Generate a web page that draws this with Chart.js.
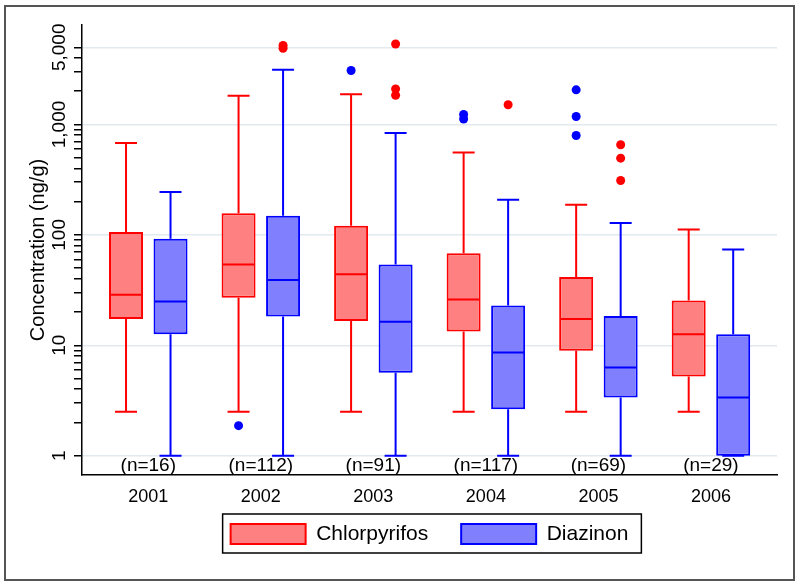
<!DOCTYPE html>
<html>
<head>
<meta charset="utf-8">
<title>Chlorpyrifos and Diazinon concentrations by year</title>
<script src="https://cdn.jsdelivr.net/npm/chart.js@4/dist/chart.umd.min.js"></script>
<style>
  body { margin: 0; background: #fff; }
  canvas { display: block; }
</style>
</head>
<body>
<canvas id="myChart" width="800" height="585"></canvas>
<script>
/* global Chart */

// categories + sample sizes
const years = ['2001', '2002', '2003', '2004', '2005', '2006'];
const sampleSizes = [16, 112, 91, 117, 69, 29];

// Chlorpyrifos box stats (ng/g)
const chlorLow = [2.5, 2.5, 2.5, 2.5, 2.5, 2.5];
const chlorQ1 = [17.3, 27, 16.6, 13.3, 8.9, 5.2];
const chlorMed = [28.6, 54, 44, 26, 17.3, 12.6];
const chlorQ3 = [106, 157, 121, 68, 41.6, 25.4];
const chlorHigh = [680, 1820, 1880, 557, 187, 112];
// outside values shown at the chlorpyrifos column (drawn blue, as in the original)
const chlorOut = [[], [1.87], [3080], [1230, 1120], [2060, 1180, 795], []];

// Diazinon box stats (ng/g)
const diazLow = [1, 1, 1, 1, 1, 1];
const diazQ1 = [12.6, 18.2, 5.65, 2.63, 3.36, 1.0];
const diazMed = [24.9, 39, 16.3, 8.6, 6.3, 3.36];
const diazQ3 = [92, 149, 54, 22.9, 18.4, 12.6];
const diazHigh = [244, 3130, 835, 208, 128, 73.6];
// outside values shown at the diazinon column (drawn red)
const diazOut = [[], [5200, 4900], [5350, 2100, 1840], [1510], [655, 495, 311], []];

// y axis ticks
const yMajor = [1, 10, 100, 1000, 5000];
const yLabels = ['1', '10', '100', '1,000', '5,000'];
const yMinor = [2, 3, 4, 5, 6, 7, 8, 9, 20, 30, 40, 50, 60, 70, 80, 90,
  200, 300, 400, 500, 600, 700, 800, 900, 2000, 3000, 4000];

const RED = '#ff0000';
const BLUE = '#0000ff';

Chart.defaults.font.family = '"Liberation Sans", Arial, sans-serif';
Chart.defaults.color = '#000';

// page frame + white background, legend nudged up under the year labels
const framePlugin = {
  id: 'frame',
  afterLayout: function(chart) {
    chart.legend.top -= 14.5;
    chart.legend.bottom -= 14.5;
  },
  beforeDraw: function(chart) {
    const ctx = chart.ctx;
    ctx.save();
    ctx.fillStyle = '#fff';
    ctx.fillRect(0, 0, chart.width, chart.height);
    ctx.strokeStyle = '#555';
    ctx.lineWidth = 2;
    ctx.strokeRect(5, 6, chart.width - 11, chart.height - 11);
    ctx.restore();
  },
  afterDraw: function(chart) {
    // box round the legend
    const hb = chart.legend.legendHitBoxes;
    if (!hb || !hb.length) return;
    const ctx = chart.ctx;
    const last = hb[hb.length - 1];
    const left = hb[0].left - 8;
    const right = last.left + last.width + 13;
    const top = hb[0].top - 9.5;
    ctx.save();
    ctx.strokeStyle = '#000';
    ctx.lineWidth = 1.5;
    ctx.strokeRect(left, top, right - left, 39);
    ctx.restore();
  }
};

// whiskers, medians, outside values and n= labels
const boxPlugin = {
  id: 'boxParts',
  afterDatasetsDraw: function(chart) {
    const ctx = chart.ctx;
    const yScale = chart.scales.y;
    const series = [
      {low: chlorLow, q1: chlorQ1, med: chlorMed, q3: chlorQ3, high: chlorHigh, out: chlorOut, color: RED, dot: BLUE},
      {low: diazLow, q1: diazQ1, med: diazMed, q3: diazQ3, high: diazHigh, out: diazOut, color: BLUE, dot: RED}
    ];
    ctx.save();
    ctx.lineWidth = 2;
    ctx.lineCap = 'butt';
    series.forEach(function(s, d) {
      const meta = chart.getDatasetMeta(d);
      meta.data.forEach(function(bar, i) {
        const x = bar.x;
        const half = bar.width / 2;
        const yLow = yScale.getPixelForValue(s.low[i]);
        const yQ1 = yScale.getPixelForValue(s.q1[i]);
        const yMed = yScale.getPixelForValue(s.med[i]);
        const yQ3 = yScale.getPixelForValue(s.q3[i]);
        const yHigh = yScale.getPixelForValue(s.high[i]);
        ctx.strokeStyle = s.color;
        ctx.beginPath();
        // whiskers
        ctx.moveTo(x, yQ3); ctx.lineTo(x, yHigh);
        ctx.moveTo(x, yQ1); ctx.lineTo(x, yLow);
        // caps
        ctx.moveTo(x - 11, yHigh); ctx.lineTo(x + 11, yHigh);
        ctx.moveTo(x - 11, yLow); ctx.lineTo(x + 11, yLow);
        // median
        ctx.moveTo(x - half + 1, yMed); ctx.lineTo(x + half - 1, yMed);
        ctx.stroke();
        // outside values
        ctx.fillStyle = s.dot;
        s.out[i].forEach(function(v) {
          ctx.beginPath();
          ctx.arc(x, yScale.getPixelForValue(v), 4.5, 0, Math.PI * 2);
          ctx.fill();
        });
      });
    });
    // (n=..) under each year
    const xScale = chart.scales.x;
    ctx.fillStyle = '#000';
    ctx.font = '19px "Liberation Sans", Arial, sans-serif';
    ctx.textAlign = 'center';
    ctx.textBaseline = 'alphabetic';
    sampleSizes.forEach(function(n, i) {
      ctx.fillText('(n=' + n + ')', xScale.getPixelForValue(i + 1), chart.chartArea.bottom - 4);
    });
    ctx.restore();
  }
};

const ctx = document.getElementById('myChart').getContext('2d');

const chart = new Chart(ctx, {
  type: 'bar',
  data: {
    datasets: [{
      label: 'Chlorpyrifos',
      backgroundColor: '#ff8080',
      borderColor: RED,
      borderWidth: 2,
      borderSkipped: false,
      data: years.map(function(y, i) { return {x: i + 1, y: [chlorQ1[i], chlorQ3[i]]}; })
    },
    {
      label: 'Diazinon',
      backgroundColor: '#8080ff',
      borderColor: BLUE,
      borderWidth: 2,
      borderSkipped: false,
      data: years.map(function(y, i) { return {x: i + 1, y: [diazQ1[i], diazQ3[i]]}; })
    }]
  },
  options: {
    responsive: false,
    animation: false,
    categoryPercentage: 0.791,
    barPercentage: 0.764,
    layout: {
      padding: {left: 0, right: 23, top: 25, bottom: 16}
    },
    scales: {
      x: {
        type: 'linear',
        min: 0.411,
        max: 6.587,
        offset: false,
        afterBuildTicks: function(scale) {
          scale.ticks = years.map(function(y, i) { return {value: i + 1}; });
        },
        afterFit: function(scale) { scale.height = 30; },
        ticks: {
          autoSkip: false,
          maxRotation: 0,
          padding: 11,
          font: {size: 18},
          callback: function(v) { return years[v - 1] || ''; }
        },
        grid: {drawOnChartArea: false, drawTicks: false, offset: false},
        border: {color: '#000', width: 1.5}
      },
      y: {
        type: 'logarithmic',
        min: 0.668,
        max: 7960,
        afterBuildTicks: function(scale) {
          scale.ticks = yMajor.concat(yMinor).sort(function(a, b) { return a - b; })
            .map(function(v) { return {value: v}; });
        },
        afterFit: function(scale) { scale.width = 82; },
        ticks: {
          autoSkip: false,
          minRotation: 90,
          maxRotation: 90,
          crossAlign: 'center',
          padding: -10,
          font: {size: 19},
          callback: function(v) {
            const k = yMajor.indexOf(v);
            return k >= 0 ? yLabels[k] : '';
          }
        },
        grid: {
          color: function(c) {
            return c.tick && yMajor.indexOf(c.tick.value) >= 0 ? '#e1eaee' : 'rgba(0,0,0,0)';
          },
          lineWidth: 1.5,
          tickLength: 8,
          tickColor: '#000',
          tickWidth: 1.5
        },
        border: {color: '#000', width: 1.5},
        title: {
          display: true,
          text: 'Concentration (ng/g)',
          font: {size: 20},
          padding: {top: 26, bottom: 0}
        }
      }
    },
    plugins: {
      legend: {
        position: 'bottom',
        fullSize: false,
        labels: {
          boxWidth: 75,
          boxHeight: 20,
          padding: 33,
          font: {size: 21},
          color: '#000'
        }
      },
      tooltip: {enabled: false}
    }
  },
  plugins: [framePlugin, boxPlugin]
});
</script>
</body>
</html>
